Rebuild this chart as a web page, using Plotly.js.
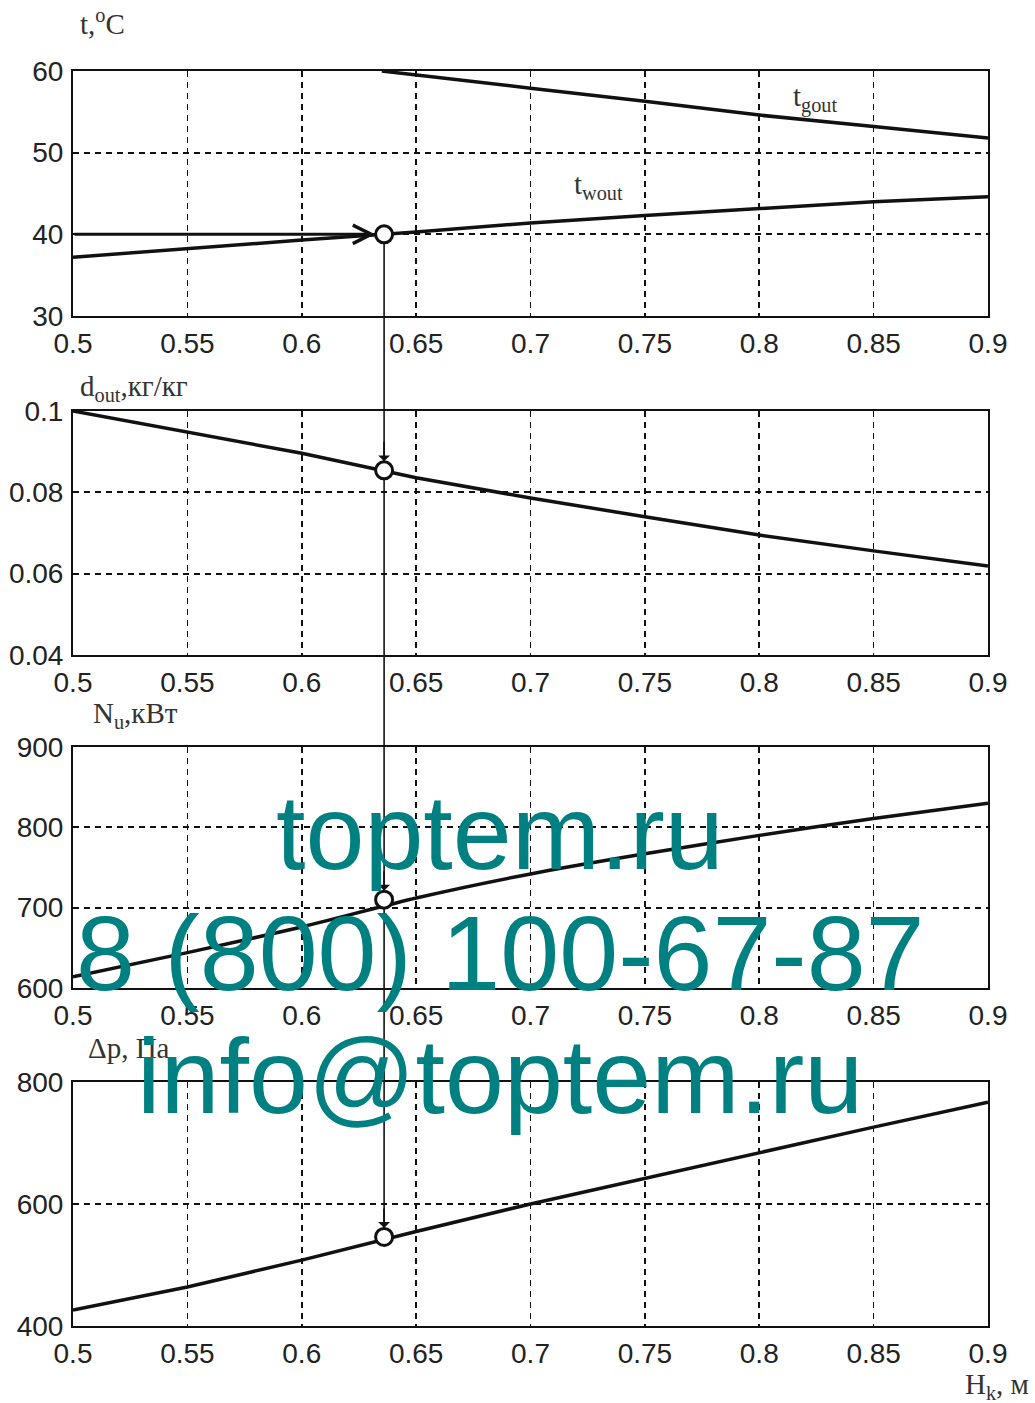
<!DOCTYPE html>
<html>
<head>
<meta charset="utf-8">
<script src="https://cdn.plot.ly/plotly-3.0.1.min.js"></script>
<style>html,body{margin:0;padding:0;background:#fff;}#chart{width:1035px;height:1403px;}</style>
</head>
<body>
<div id="chart"></div>
<script>
// ---- data ----
const H = [0.5, 0.55, 0.6, 0.65, 0.7, 0.75, 0.8, 0.85, 0.9];
const tgoutH = [0.635, 0.65, 0.7, 0.75, 0.8, 0.85, 0.9];
const tgout = [60.0, 59.5, 57.9, 56.3, 54.6, 53.2, 51.8];
const twout = [37.2, 38.3, 39.3, 40.3, 41.4, 42.3, 43.1, 44.0, 44.6];
const dout = [0.1000, 0.0949, 0.0896, 0.0836, 0.0786, 0.0740, 0.0695, 0.0656, 0.0619];
const Nu = [614, 644, 676, 712, 742, 767, 790, 811, 830];
const dp = [426, 464, 508, 555, 600, 642, 685, 726, 767];
// selected operating point
const Hsel = 0.636;
const tSel = 40, dSel = 0.0854, NSel = 710, pSel = 546;
// tick labels
const xTicks = [0.5, 0.55, 0.6, 0.65, 0.7, 0.75, 0.8, 0.85, 0.9];
const xTickText = ['0.5','0.55','0.6','0.65','0.7','0.75','0.8','0.85','0.9'];
const y1Ticks = [30, 40, 50, 60], y1Text = ['30','40','50','60'];
const y2Ticks = [0.04, 0.06, 0.08, 0.1], y2Text = ['0.04','0.06','0.08','0.1'];
const y3Ticks = [600, 700, 800, 900], y3Text = ['600','700','800','900'];
const y4Ticks = [400, 600, 800], y4Text = ['400','600','800'];
// texts
const yTitles = ['t,<sup>o</sup>C', 'd<sub>out</sub>,кг/кг', 'N<sub>u</sub>,кВт', 'Δp, Па'];
const xTitle = 'H<sub>k</sub>, м';
const curveLabels = ['t<sub>gout</sub>', 't<sub>wout</sub>'];
const watermark = ['toptem.ru', '8 (800) 100-67-87', 'info@toptem.ru'];

// ---- layout geometry ----
const W = 1035, HT = 1403;
const M = {l: 73, r: 47, t: 71, b: 77};
const plotH = HT - M.t - M.b;
function py(pix) { return (HT - M.b - pix) / plotH; } // pixel row -> paper
function px(pix) { return (pix - M.l) / (W - M.l - M.r); } // pixel column -> paper
const domains = [[py(316), 1.0], [py(655), py(411)], [py(988), py(747)], [0.0, py(1082)]];
const ranges = [[30, 60], [0.04, 0.1], [600, 900], [400, 800]];
function toPaper(i, v) {
  const d = domains[i], r = ranges[i];
  return d[0] + (v - r[0]) / (r[1] - r[0]) * (d[1] - d[0]);
}

const lineStyle = {color: '#111', width: 3.5};
const circleMarker = {symbol: 'circle', size: 17, color: '#fff', line: {color: '#111', width: 3}};

const traces = [
  {x: tgoutH, y: tgout, xaxis: 'x', yaxis: 'y', mode: 'lines', line: lineStyle},
  {x: H, y: twout, xaxis: 'x', yaxis: 'y', mode: 'lines', line: lineStyle},
  {x: H, y: dout, xaxis: 'x2', yaxis: 'y2', mode: 'lines', line: lineStyle},
  {x: H, y: Nu, xaxis: 'x3', yaxis: 'y3', mode: 'lines', line: {color: '#111', width: 3.5, shape: 'spline', smoothing: 0.6}},
  {x: H, y: dp, xaxis: 'x4', yaxis: 'y4', mode: 'lines', line: lineStyle},
  {x: [Hsel], y: [tSel], xaxis: 'x', yaxis: 'y', mode: 'markers', marker: circleMarker, cliponaxis: false},
  {x: [Hsel], y: [dSel], xaxis: 'x2', yaxis: 'y2', mode: 'markers', marker: circleMarker, cliponaxis: false},
  {x: [Hsel], y: [NSel], xaxis: 'x3', yaxis: 'y3', mode: 'markers', marker: circleMarker, cliponaxis: false},
  {x: [Hsel], y: [pSel], xaxis: 'x4', yaxis: 'y4', mode: 'markers', marker: circleMarker, cliponaxis: false}
];

const tickFont = {family: 'Liberation Sans, Arial, sans-serif', size: 28, color: '#222'};
function xAxis(anchor) {
  return {
    domain: [0, 1], range: [0.5, 0.9], anchor: anchor,
    tickmode: 'array', tickvals: xTicks, ticktext: xTickText,
    showgrid: true, gridcolor: '#111', gridwidth: 1.7, griddash: '6px,5px',
    showline: true, mirror: true, linecolor: '#111', linewidth: 2,
    zeroline: false, ticks: '', tickfont: tickFont, ticklabelstandoff: 1, fixedrange: true
  };
}
function yAxis(anchor, i, tv, tt) {
  return {
    domain: domains[i], range: ranges[i], anchor: anchor,
    tickmode: 'array', tickvals: tv, ticktext: tt,
    showgrid: true, gridcolor: '#111', gridwidth: 1.7, griddash: '6px,5px',
    showline: true, mirror: true, linecolor: '#111', linewidth: 2,
    zeroline: false, ticks: '', tickfont: tickFont, ticklabelstandoff: 2, fixedrange: true
  };
}

const serif = 'Liberation Serif, Times New Roman, serif';
const titleFont = {family: serif, size: 29, color: '#333'};
const annotations = [];
// axis titles
const titlePos = [[78, 22], [78, 388], [91, 715], [86, 1048]];
yTitles.forEach((t, i) => {
  annotations.push({text: t, xref: 'paper', yref: 'paper',
    x: px(titlePos[i][0]), y: py(titlePos[i][1]),
    xanchor: 'left', yanchor: 'middle', showarrow: false, font: titleFont});
});
annotations.push({text: xTitle, xref: 'paper', yref: 'paper',
  x: px(1031), y: py(1386), xanchor: 'right', yanchor: 'middle',
  showarrow: false, font: titleFont});
// curve labels
annotations.push({text: curveLabels[0], xref: 'paper', yref: 'paper', x: px(815), y: py(98),
  xanchor: 'center', yanchor: 'middle', showarrow: false, font: titleFont});
annotations.push({text: curveLabels[1], xref: 'paper', yref: 'paper', x: px(598), y: py(186),
  xanchor: 'center', yanchor: 'middle', showarrow: false, font: titleFont});
// horizontal arrow into the first circle
annotations.push({x: Hsel, y: tSel, xref: 'x', yref: 'y', axref: 'x', ayref: 'y',
  ax: 0.5, ay: tSel, showarrow: true, arrowhead: 5, arrowwidth: 3, arrowsize: 1.2,
  arrowcolor: '#111', standoff: 9, text: ''});
// small down arrows above circles 2-4
[['y2', dSel], ['y3', NSel], ['y4', pSel]].forEach(([ya, v], k) => {
  annotations.push({x: Hsel, y: v, xref: ['x2','x3','x4'][k], yref: ya,
    ax: 0, ay: -30, showarrow: true, arrowhead: 1, arrowwidth: 1.8, arrowsize: 1.1,
    arrowcolor: '#111', standoff: 9, text: ''});
});
// watermark
const wmY = [832, 953, 1076];
watermark.forEach((t, i) => {
  annotations.push({text: t, xref: 'paper', yref: 'paper',
    x: px(500), y: py(wmY[i]), xanchor: 'center', yanchor: 'middle',
    showarrow: false, font: {family: 'Liberation Sans, Arial, sans-serif', size: 106, color: '#008080'}});
});

const shapes = [
  {type: 'line', xref: 'x', yref: 'paper', x0: Hsel, x1: Hsel,
   y0: toPaper(0, tSel), y1: toPaper(3, pSel), line: {color: '#111', width: 1.6}, layer: 'below'}
];

const layout = {
  width: W, height: HT, margin: M, showlegend: false,
  paper_bgcolor: '#fff', plot_bgcolor: '#fff',
  font: {family: 'Liberation Sans, Arial, sans-serif', color: '#222'},
  xaxis: xAxis('y'), xaxis2: xAxis('y2'), xaxis3: xAxis('y3'), xaxis4: xAxis('y4'),
  yaxis: yAxis('x', 0, y1Ticks, y1Text), yaxis2: yAxis('x2', 1, y2Ticks, y2Text),
  yaxis3: yAxis('x3', 2, y3Ticks, y3Text), yaxis4: yAxis('x4', 3, y4Ticks, y4Text),
  annotations: annotations, shapes: shapes
};

Plotly.newPlot('chart', traces, layout, {staticPlot: true, displayModeBar: false});
</script>
</body>
</html>
